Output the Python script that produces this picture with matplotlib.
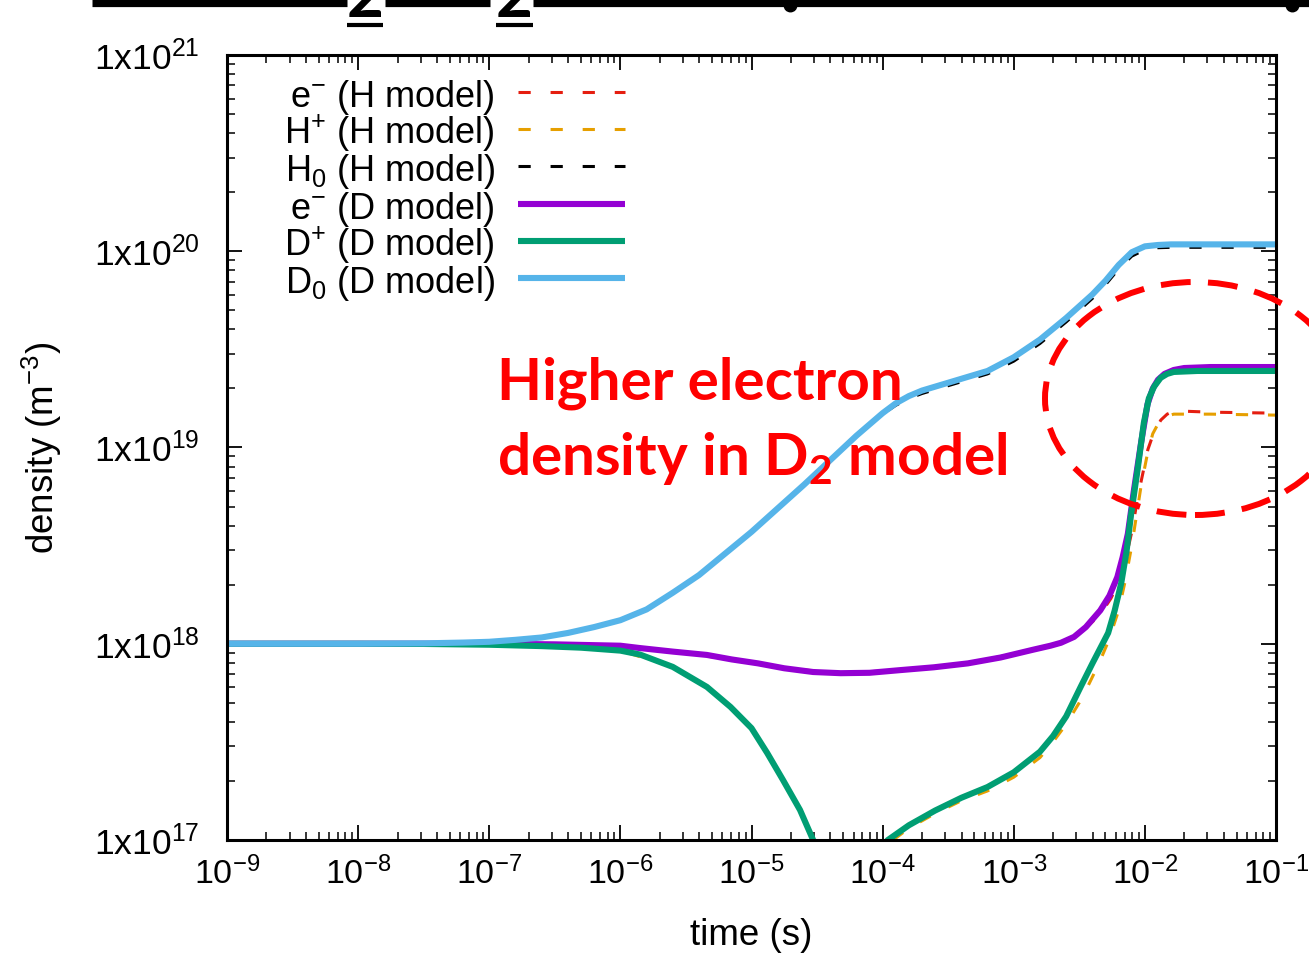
import numpy as np
import matplotlib
matplotlib.use("Agg")
import matplotlib.pyplot as plt
from matplotlib.patches import Ellipse
from matplotlib.lines import Line2D
from matplotlib.ticker import LogLocator, FixedLocator, NullFormatter

plt.rcParams['font.family'] = ['Liberation Sans', 'DejaVu Sans']
plt.rcParams['mathtext.fontset'] = 'custom'
plt.rcParams['mathtext.rm'] = 'Liberation Sans'
plt.rcParams['mathtext.it'] = 'Liberation Sans:italic'
plt.rcParams['mathtext.bf'] = 'Lato:bold'

# all values as log10(time [s]) and log10(density [m^-3])
# --- D model (solid lines) ---
t_e_D = [-9, -8, -7, -6.5, -6.0, -5.85, -5.6, -5.34, -5.15, -4.95, -4.75, -4.53, -4.32, -4.1,
         -3.86, -3.61, -3.35, -3.1, -2.85, -2.72, -2.64, -2.54, -2.45, -2.34, -2.27, -2.21,
         -2.17, -2.13, -2.084, -2.03, -1.98, -1.94, -1.9, -1.85, -1.78, -1.7, -1.5, -1]
n_e_D = [18.0, 18.0, 18.0, 17.997, 17.99, 17.978, 17.96, 17.943, 17.92, 17.90, 17.875, 17.856,
         17.85, 17.852, 17.866, 17.88, 17.90, 17.93, 17.97, 17.99, 18.005, 18.035, 18.085,
         18.17, 18.245, 18.34, 18.44, 18.56, 18.78, 19.02, 19.22, 19.30, 19.345, 19.375,
         19.395, 19.405, 19.41, 19.41]

t_i_D = [-9, -8, -7.5, -7, -6.6, -6.3, -6.0, -5.85, -5.6, -5.34, -5.16, -5.0, -4.88, -4.76,
         -4.63, -4.53, -4.4, -4.05, -3.96, -3.8, -3.6, -3.4, -3.2, -3.0, -2.8, -2.7, -2.6,
         -2.49, -2.4, -2.28, -2.23, -2.18, -2.14, -2.107, -2.053, -2.008, -1.97, -1.93, -1.88,
         -1.83, -1.78, -1.6, -1]
n_i_D = [18.0, 18.0, 17.999, 17.995, 17.988, 17.98, 17.965, 17.945, 17.882, 17.78, 17.678,
         17.57, 17.443, 17.306, 17.153, 17.0, 16.83, 16.93, 17.0, 17.075, 17.15, 17.215, 17.27,
         17.345, 17.45, 17.53, 17.63, 17.78, 17.90, 18.055, 18.17, 18.31, 18.47, 18.65, 18.90,
         19.125, 19.25, 19.31, 19.355, 19.375, 19.385, 19.39, 19.39]

t_0_D = [-9, -8, -7.5, -7.2, -7.0, -6.8, -6.6, -6.4, -6.2, -6.0, -5.8, -5.6, -5.4, -5.2, -5.0,
         -4.8, -4.6, -4.4, -4.2, -4.0, -3.9, -3.8, -3.7, -3.6, -3.4, -3.2, -3.0, -2.8, -2.6,
         -2.4, -2.3, -2.2, -2.1, -2.0, -1.9, -1.8, -1.5, -1]
n_0_D = [18.0, 18.0, 18.002, 18.006, 18.01, 18.02, 18.032, 18.055, 18.085, 18.12, 18.175,
         18.26, 18.35, 18.46, 18.57, 18.69, 18.81, 18.935, 19.06, 19.175, 19.225, 19.262,
         19.29, 19.31, 19.35, 19.39, 19.46, 19.55, 19.66, 19.78, 19.85, 19.93, 19.995, 20.025,
         20.032, 20.035, 20.035, 20.035]

# --- H model (dashed lines) ---
t_e_H = [-9, -7, -6.0, -5.6, -5.15, -4.75, -4.32, -3.86, -3.35, -2.85, -2.64, -2.45, -2.34,
         -2.26, -2.2, -2.15, -2.1, -2.05, -1.977, -1.93, -1.878, -1.83, -1.78, -1.7, -1.5, -1]
n_e_H = [18.0, 18.0, 17.99, 17.96, 17.92, 17.875, 17.85, 17.866, 17.90, 17.97, 18.005, 18.08,
         18.15, 18.23, 18.31, 18.42, 18.57, 18.76, 18.99, 19.08, 19.14, 19.17, 19.185, 19.185,
         19.18, 19.175]

t_i_H = [-9, -7, -6.3, -6.0, -5.6, -5.34, -5.16, -5.0, -4.88, -4.76, -4.63, -4.53, -4.4, -4.05,
         -3.96, -3.8, -3.6, -3.4, -3.2, -3.0, -2.8, -2.7, -2.6, -2.5, -2.43, -2.35, -2.28, -2.2,
         -2.15, -2.1, -2.03, -1.98, -1.94, -1.9, -1.85, -1.78, -1.5, -1]
n_i_H = [18.0, 17.995, 17.98, 17.965, 17.882, 17.78, 17.678, 17.57, 17.443, 17.306, 17.153,
         17.0, 16.83, 16.92, 16.98, 17.06, 17.135, 17.20, 17.25, 17.32, 17.42, 17.50, 17.59,
         17.70, 17.79, 17.90, 18.01, 18.17, 18.32, 18.50, 18.80, 18.97, 19.07, 19.12, 19.155,
         19.17, 19.17, 19.165]

t_0_H = [-9, -8, -7.5, -7.2, -7.0, -6.8, -6.6, -6.4, -6.2, -6.0, -5.8, -5.6, -5.4, -5.2, -5.0,
         -4.8, -4.6, -4.4, -4.2, -4.0, -3.9, -3.8, -3.7, -3.6, -3.4, -3.2, -3.0, -2.8, -2.6,
         -2.4, -2.3, -2.2, -2.1, -2.0, -1.9, -1.8, -1.5, -1]
n_0_H = [18.0, 18.0, 18.002, 18.006, 18.01, 18.02, 18.032, 18.055, 18.085, 18.12, 18.175,
         18.26, 18.35, 18.46, 18.57, 18.69, 18.81, 18.935, 19.06, 19.17, 19.215, 19.25, 19.275,
         19.295, 19.335, 19.375, 19.44, 19.53, 19.64, 19.76, 19.83, 19.91, 19.975, 20.008,
         20.018, 20.02, 20.02, 20.02]

labels = ['e$^{-}$ (H model)', 'H$^{+}$ (H model)', 'H$_{0}$ (H model)',
          'e$^{-}$ (D model)', 'D$^{+}$ (D model)', 'D$_{0}$ (D model)']
colors = ['#e51e10', '#e69f00', '#000000', '#9400d3', '#009e73', '#56b4e9']

xtick_vals = [1e-9, 1e-8, 1e-7, 1e-6, 1e-5, 1e-4, 1e-3, 1e-2, 1e-1]
xtick_labels = ['10$^{-9}$', '10$^{-8}$', '10$^{-7}$', '10$^{-6}$', '10$^{-5}$',
                '10$^{-4}$', '10$^{-3}$', '10$^{-2}$', '10$^{-1}$']
ytick_vals = [1e17, 1e18, 1e19, 1e20, 1e21]
ytick_labels = ['1x10$^{17}$', '1x10$^{18}$', '1x10$^{19}$', '1x10$^{20}$', '1x10$^{21}$']

series = [(t_e_H, n_e_H), (t_i_H, n_i_H), (t_0_H, n_0_H),
          (t_e_D, n_e_D), (t_i_D, n_i_D), (t_0_D, n_0_D)]

W, H = 1309, 955
fig = plt.figure(figsize=(W / 100, H / 100), dpi=100)
ax = fig.add_axes([227 / W, 1 - 840 / H, (1276 - 227) / W, (840 - 55) / H])

dash_style = dict(lw=2.2, linestyle=(0, (4, 6.5)))
solid_style = dict(lw=4.4, linestyle='-', solid_capstyle='butt')
styles = []
for i in range(6):
    st = dict(dash_style) if i < 3 else dict(solid_style)
    st['color'] = colors[i]
    styles.append(st)

for i, ((tt, nn), st) in enumerate(zip(series, styles)):
    st_line = dict(st)
    if i == 1:
        st_line['linestyle'] = (5, (4, 6.5))  # interleave with red dashes
    ax.plot(10 ** np.array(tt), 10 ** np.array(nn), **st_line)

ax.set_xscale('log')
ax.set_yscale('log')
ax.set_xlim(1e-9, 1e-1)
ax.set_ylim(1e17, 1e21)

ax.xaxis.set_major_locator(FixedLocator(xtick_vals))
ax.set_xticklabels(xtick_labels)
ax.yaxis.set_major_locator(FixedLocator(ytick_vals))
ax.set_yticklabels(ytick_labels)
ax.xaxis.set_minor_locator(LogLocator(base=10, subs=np.arange(2, 10), numticks=50))
ax.yaxis.set_minor_locator(LogLocator(base=10, subs=np.arange(2, 10), numticks=50))
ax.xaxis.set_minor_formatter(NullFormatter())
ax.yaxis.set_minor_formatter(NullFormatter())

ax.tick_params(which='both', direction='in', top=True, right=True)
ax.tick_params(which='major', length=11, width=1.3, labelsize=24.5)
ax.tick_params(axis='y', which='major', labelsize=25.5, pad=20)
ax.tick_params(axis='x', which='major', pad=12)
ax.tick_params(which='minor', length=6, width=1.1)
for sp in ax.spines.values():
    sp.set_linewidth(2.2)

ax.set_xlabel('time (s)', fontsize=26.5)
ax.xaxis.set_label_coords(0.5, -0.099)
ax.set_ylabel('density (m$^{-3}$)', fontsize=26.5)
ax.yaxis.set_label_coords(-0.155, 0.5)

# key, gnuplot style: text right aligned, sample on the right
for i, (lab, st) in enumerate(zip(labels, styles)):
    y = 0.9529 - i * 0.0474
    ax.text(0.2555, y - 0.019, lab, transform=ax.transAxes, ha='right', va='baseline',
            fontsize=26)
    ax.add_line(Line2D([0.2774, 0.3794], [y, y], transform=ax.transAxes, **st))

# slide annotation
fig.text(497 / W, 1 - 400 / H, 'Higher electron', color='#ff0000', fontsize=42,
         fontweight='bold', family='Lato', va='baseline')
fig.text(497 / W, 1 - 475 / H, 'density in D$_\\mathbf{2}$ model', color='#ff0000',
         fontsize=42, fontweight='bold', family='Lato', va='baseline')
fig.add_artist(Ellipse((1195 / W, 1 - 398.5 / H), 300 / W, 233 / H, transform=fig.transFigure,
                       fill=False, edgecolor='#ff0000', lw=4.3, linestyle=(0, (5, 2.9))))

# cut-off slide title underline at the very top
for x0, x1 in [(92, 347), (385, 490), (533, 1309)]:
    fig.add_artist(Line2D([x0 / W, x1 / W], [1 - 3 / H, 1 - 3 / H], transform=fig.transFigure,
                          color='black', lw=5.2, solid_capstyle='butt'))
for x0, x1 in [(347, 383), (496, 533)]:
    fig.add_artist(Line2D([x0 / W, x1 / W], [1 - 25 / H, 1 - 25 / H], transform=fig.transFigure,
                          color='black', lw=3, solid_capstyle='butt'))
for xc in [365, 514]:
    fig.text(xc / W, 1 - 17 / H, '2', fontsize=46, fontweight='bold', family='Lato',
             ha='center', va='baseline')
for xc in [790, 1292]:
    fig.add_artist(Line2D([xc / W], [1 - 5 / H], transform=fig.transFigure, marker='o',
                          markersize=9, color='black'))

fig.savefig('out.png', dpi=100)
